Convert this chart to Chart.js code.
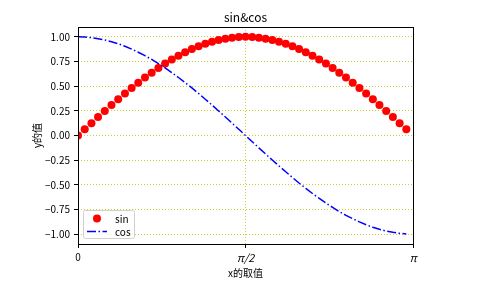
<!DOCTYPE html>
<html>
<head>
<meta charset="utf-8">
<script src="https://cdn.jsdelivr.net/npm/chart.js@4"></script>
<style>
    html, body { margin: 0; padding: 0; background: #fff; }
    canvas { display: block; }
</style>
</head>
<body>
<canvas id="chart" width="480" height="290"></canvas>
<script>
const xValues = [0, 0.063, 0.126, 0.188, 0.251, 0.314, 0.377, 0.440, 0.503, 0.565,
    0.628, 0.691, 0.754, 0.817, 0.880, 0.942, 1.005, 1.068, 1.131, 1.194,
    1.257, 1.319, 1.382, 1.445, 1.508, 1.571, 1.634, 1.696, 1.759, 1.822,
    1.885, 1.948, 2.011, 2.073, 2.136, 2.199, 2.262, 2.325, 2.388, 2.450,
    2.513, 2.576, 2.639, 2.702, 2.765, 2.827, 2.890, 2.953, 3.016, 3.079];
const sinValues = [0, 0.063, 0.125, 0.187, 0.249, 0.309, 0.368, 0.426, 0.482, 0.536,
    0.588, 0.637, 0.685, 0.729, 0.771, 0.809, 0.844, 0.876, 0.905, 0.930,
    0.951, 0.969, 0.982, 0.992, 0.998, 1.000, 0.998, 0.992, 0.982, 0.969,
    0.951, 0.930, 0.905, 0.876, 0.844, 0.809, 0.771, 0.729, 0.685, 0.637,
    0.588, 0.536, 0.482, 0.426, 0.368, 0.309, 0.249, 0.187, 0.125, 0.063];
const cosValues = [1.000, 0.998, 0.992, 0.982, 0.969, 0.951, 0.930, 0.905, 0.876, 0.844,
    0.809, 0.771, 0.729, 0.685, 0.637, 0.588, 0.536, 0.482, 0.426, 0.368,
    0.309, 0.249, 0.187, 0.125, 0.063, 0, -0.063, -0.125, -0.187, -0.249,
    -0.309, -0.368, -0.426, -0.482, -0.536, -0.588, -0.637, -0.685, -0.729, -0.771,
    -0.809, -0.844, -0.876, -0.905, -0.930, -0.951, -0.969, -0.982, -0.992, -0.998];
const xTicks = [0, Math.PI / 2, Math.PI];
const xTickLabels = ['0', 'π/2', 'π'];
const yTicks = [-1, -0.75, -0.5, -0.25, 0, 0.25, 0.5, 0.75, 1];

const FONT = "'Noto Sans CJK SC', 'Noto Sans', sans-serif";
const gridColor = 'rgba(195, 195, 0, 0.8)';

const sinData = xValues.map((x, i) => ({ x: x, y: sinValues[i] }));
const cosData = xValues.map((x, i) => ({ x: x, y: cosValues[i] }));

// title, axis labels, frame and the legend box drawn like matplotlib
const decorations = {
    id: 'decorations',
    afterDatasetsDraw(chart) {
        const ctx = chart.ctx;
        const a = chart.chartArea;
        ctx.save();
        ctx.strokeStyle = '#000';
        ctx.lineWidth = 1;
        ctx.strokeRect(a.left + 0.5, a.top + 0.5, a.right - a.left, a.bottom - a.top);

        ctx.fillStyle = '#000';
        ctx.textAlign = 'center';
        ctx.textBaseline = 'middle';
        ctx.font = '12px ' + FONT;
        ctx.fillText('sin&cos', (a.left + a.right) / 2, 17);
        ctx.font = '10px ' + FONT;
        ctx.fillText('x的取值', (a.left + a.right) / 2, 273);
        ctx.translate(37, (a.top + a.bottom) / 2);
        ctx.rotate(-Math.PI / 2);
        ctx.fillText('y的值', 0, 0);
        ctx.restore();

        // legend
        ctx.save();
        const lx = 83.5, ly = 210.5, lw = 51, lh = 28;
        ctx.beginPath();
        ctx.roundRect(lx, ly, lw, lh, 2);
        ctx.fillStyle = 'rgba(255, 255, 255, 0.8)';
        ctx.fill();
        ctx.strokeStyle = '#d0d0d0';
        ctx.lineWidth = 1;
        ctx.stroke();

        ctx.beginPath();
        ctx.arc(97, 218.5, 4, 0, Math.PI * 2);
        ctx.fillStyle = '#ff0000';
        ctx.fill();

        ctx.beginPath();
        ctx.setLineDash([9, 2.5, 1.5, 2.5]);
        ctx.moveTo(87, 231.5);
        ctx.lineTo(107, 231.5);
        ctx.strokeStyle = '#0000ff';
        ctx.lineWidth = 1.5;
        ctx.stroke();
        ctx.setLineDash([]);

        ctx.fillStyle = '#000';
        ctx.font = '10px ' + FONT;
        ctx.textAlign = 'left';
        ctx.textBaseline = 'middle';
        ctx.fillText('sin', 115, 219);
        ctx.fillText('cos', 115, 232);
        ctx.restore();
    }
};

const ctx = document.getElementById('chart').getContext('2d');

new Chart(ctx, {
    type: 'scatter',
    data: {
        datasets: [
            {
                label: 'sin',
                data: sinData,
                showLine: false,
                pointRadius: 4,
                pointHoverRadius: 4,
                pointBackgroundColor: '#ff0000',
                pointBorderWidth: 0,
                borderColor: '#ff0000',
                clip: 0,
                order: 2,
            },
            {
                label: 'cos',
                data: cosData,
                showLine: true,
                pointRadius: 0,
                borderColor: '#0000ff',
                borderWidth: 1.5,
                borderDash: [9, 2.5, 1.5, 2.5],
                tension: 0,
                clip: 0,
                order: 1,
            }
        ]
    },
    options: {
        responsive: false,
        animation: false,
        layout: {
            padding: { left: 0, top: 27, right: 67, bottom: 0 },
        },
        plugins: {
            legend: { display: false },
            title: { display: false },
            tooltip: { enabled: false },
        },
        scales: {
            x: {
                type: 'linear',
                min: 0,
                max: Math.PI,
                afterBuildTicks: (scale) => {
                    scale.ticks = xTicks.map(v => ({ value: v }));
                },
                afterFit: (scale) => {
                    scale.height = 46;
                },
                border: { display: false, dash: [1, 2] },
                grid: {
                    color: gridColor,
                    lineWidth: 1,
                    drawTicks: true,
                    tickLength: 4,
                    tickColor: '#000',
                    tickBorderDash: [],
                },
                ticks: {
                    color: '#000',
                    padding: 3,
                    maxRotation: 0,
                    font: (c) => ({
                        family: FONT,
                        size: c.index > 0 ? 11 : 10,
                        style: c.index > 0 ? 'italic' : 'normal',
                    }),
                    callback: (value) => {
                        const i = xTicks.findIndex(t => Math.abs(t - value) < 1e-6);
                        return i >= 0 ? xTickLabels[i] : '';
                    },
                },
            },
            y: {
                type: 'linear',
                min: -1.1,
                max: 1.1,
                afterBuildTicks: (scale) => {
                    scale.ticks = yTicks.map(v => ({ value: v }));
                },
                afterFit: (scale) => {
                    scale.width = 78;
                },
                border: { display: false, dash: [1, 2] },
                grid: {
                    color: gridColor,
                    lineWidth: 1,
                    drawTicks: true,
                    tickLength: 4,
                    tickColor: '#000',
                    tickBorderDash: [],
                },
                ticks: {
                    color: '#000',
                    padding: 4,
                    font: { family: FONT, size: 10 },
                    callback: (value) => {
                        const s = Math.abs(value).toFixed(2);
                        return value < 0 ? '−' + s : s;
                    },
                },
            },
        },
    },
    plugins: [decorations],
});
</script>
</body>
</html>
